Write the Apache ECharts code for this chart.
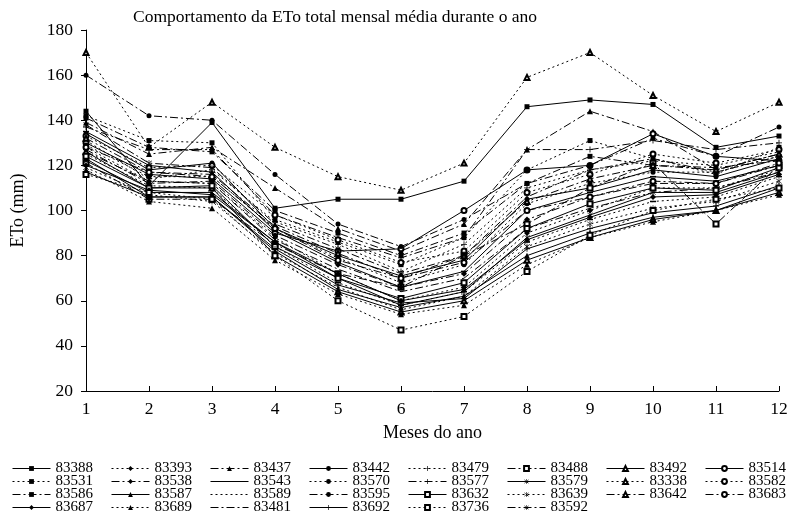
<!DOCTYPE html>
<html><head><meta charset="utf-8">
<script src="https://cdn.jsdelivr.net/npm/echarts@6/dist/echarts.min.js"></script>
<style>html,body{margin:0;padding:0;background:#fff}#c{width:792px;height:517px}</style>
</head><body><div id="c"></div>
<script>
const months = ['1','2','3','4','5','6','7','8','9','10','11','12'];
const yTicks = [20,40,60,80,100,120,140,160,180];
const stations = ['83388','83393','83437','83442','83479','83488','83492','83514',
  '83531','83538','83543','83570','83577','83579','83338','83582',
  '83586','83587','83589','83595','83632','83639','83642','83683',
  '83687','83689','83481','83692','83736','83592'];

const v83388 = [144,111,139,101,105,105,113,146,149,147,128,133];
const v83393 = [128,113,112,88,72,60,66,90,100,110,110,118];
const v83437 = [139,125,128,110,92,82,94,127,144,135,118,125];
const v83442 = [134,118,121,92,80,71,78,105,110,118,115,123];
const v83479 = [131,114,118,95,85,73,85,110,118,122,120,126];
const v83488 = [121,105,105,85,72,66,80,94,110,121,94,120];
const v83492 = [126,110,110,80,64,55,60,78,88,96,100,108];
const v83514 = [130,116,114,90,82,83,100,118,120,134,124,122];
const v83531 = [142,131,130,96,86,76,88,118,131,123,116,128];
const v83538 = [127,112,113,89,76,66,72,96,106,112,112,120];
const v83543 = [135,120,117,91,77,66,73,100,108,115,113,120];
const v83570 = [129,115,115,92,79,68,76,103,112,117,117,124];
const v83577 = [137,127,127,98,88,79,88,127,127,131,127,130];
const v83579 = [122,108,108,86,70,58,64,88,98,108,108,117];
const v83338 = [170,128,148,128,115,109,121,159,170,151,135,148];
const v83582 = [133,119,120,98,87,77,82,108,116,125,121,127];
const v83586 = [141,128,126,100,90,80,90,112,124,120,119,122];
const v83587 = [123,106,106,82,65,57,62,80,90,97,100,110];
const v83589 = [125,111,110,84,68,58,64,86,96,104,106,115];
const v83595 = [160,142,140,116,94,84,96,112,120,132,124,137];
const v83632 = [124,110,111,84,70,61,68,92,103,110,109,119];
const v83639 = [119,107,104,81,66,56,62,84,94,101,104,113];
const v83642 = [132,117,116,93,81,70,80,104,114,120,118,125];
const v83683 = [128,117,115,92,78,70,77,100,106,113,112,121];
const v83687 = [120,109,107,86,72,60,65,87,97,106,107,116];
const v83689 = [118,104,101,78,63,54,58,76,88,95,100,107];
const v83481 = [126,113,112,87,74,64,70,92,101,108,110,117];
const v83692 = [117,106,106,83,67,59,61,83,92,99,102,111];
const v83736 = [116,108,105,80,60,47,53,73,89,100,105,110];
const v83592 = [138,121,119,94,83,72,80,106,118,123,117,124];

const values = [v83388,v83393,v83437,v83442,v83479,v83488,v83492,v83514,
  v83531,v83538,v83543,v83570,v83577,v83579,v83338,v83582,
  v83586,v83587,v83589,v83595,v83632,v83639,v83642,v83683,
  v83687,v83689,v83481,v83692,v83736,v83592];

// styles
const SOLID='solid', DOT=[2,3], DD=[8,3,2,3];
const PLUS='path://M4.3,0H5.7V4.3H10V5.7H5.7V10H4.3V5.7H0V4.3H4.3Z';
const STAR='path://M4.5,0H5.5V10H4.5Z M0.7,1.3L1.3,0.7L9.3,8.7L8.7,9.3Z M9.3,1.3L8.7,0.7L0.7,8.7L1.3,9.3Z';
const DASH='rect';
const styleList = [
  [SOLID,'rect',5],[DOT,'diamond',6],[DD,'triangle',6],[SOLID,'circle',5],[DOT,PLUS,6],[DD,'emptyRect',5],[SOLID,'emptyTriangle',5],[SOLID,'emptyCircle',5],
  [DOT,'rect',5],[DD,'diamond',6],[SOLID,DASH,[6,1.5]],[DOT,'circle',5],[DD,PLUS,6],[SOLID,STAR,6],[DOT,'emptyTriangle',5],[DOT,'emptyCircle',5],
  [DD,'rect',5],[SOLID,'triangle',6],[DOT,DASH,[6,1.5]],[DD,'circle',5],[SOLID,'emptyRect',5],[DOT,STAR,6],[DD,'emptyTriangle',5],[DD,'emptyCircle',5],
  [SOLID,'diamond',6],[DOT,'triangle',6],[DD,'none',0],[SOLID,PLUS,6],[DOT,'emptyRect',5],[DD,STAR,6]
];
const hiddenLegendSymbol = ['83543','83589','83481'];

const FONT = 'Liberation Serif';
const series = stations.map((name,i)=>{
  const sym = styleList[i][1];
  const empty = typeof sym === 'string' && sym.startsWith('empty');
  return {
    name, type:'line', data: values[i],
    symbol: sym, symbolSize: styleList[i][2],
    showSymbol: sym !== 'none',
    lineStyle:{color:'#000', width:1, type: styleList[i][0]},
    itemStyle:{color:'#000', borderColor:'#000', borderWidth: empty ? 1 : 0},
    emphasis:{disabled:true}, animation:false
  };
});

const legendRows = [0,1,2,3].map(r=>({
  data: stations.slice(r*8, r*8+8).map(n => hiddenLegendSymbol.includes(n)
      ? {name:n, itemStyle:{color:'rgba(0,0,0,0)', borderColor:'rgba(0,0,0,0)', borderWidth:0}}
      : {name:n}),
  left: 12, top: 461 + r*13, orient:'horizontal',
  itemWidth: 38, itemHeight: 6, itemGap: 18, padding: 0,
  selectedMode:false,
  lineStyle:{width:1},
  textStyle:{fontFamily:FONT, fontSize:15, color:'#000', lineHeight:13}
}));

const chart = echarts.init(document.getElementById('c'), null, {renderer:'canvas'});
chart.setOption({
  animation:false,
  backgroundColor:'#fff',
  title:{text:'Comportamento da ETo total mensal média durante o ano', left:133, top:8, padding:0,
    textStyle:{fontFamily:FONT, fontSize:17.5, fontWeight:'normal', color:'#000'}},
  grid:{left:86, right:13, top:30, bottom:126},
  legend: legendRows,
  xAxis:{type:'category', data:months, boundaryGap:false,
    name:'Meses do ano', nameLocation:'middle', nameGap:33,
    nameTextStyle:{fontFamily:FONT, fontSize:18, color:'#000'},
    axisLine:{lineStyle:{color:'#000', width:1}},
    axisTick:{inside:true, length:5, lineStyle:{color:'#000'}},
    axisLabel:{fontFamily:FONT, fontSize:17.5, color:'#000', margin:9},
    splitLine:{show:false}},
  yAxis:{type:'value', min:yTicks[0], max:yTicks[yTicks.length-1], interval:20,
    name:'ETo (mm)', nameLocation:'middle', nameGap:59,
    nameTextStyle:{fontFamily:FONT, fontSize:18, color:'#000'},
    axisLine:{show:true, lineStyle:{color:'#000', width:1}},
    axisTick:{show:true, length:5, lineStyle:{color:'#000'}},
    axisLabel:{fontFamily:FONT, fontSize:17.5, color:'#000', margin:13},
    splitLine:{show:false}},
  series
});
</script></body></html>
